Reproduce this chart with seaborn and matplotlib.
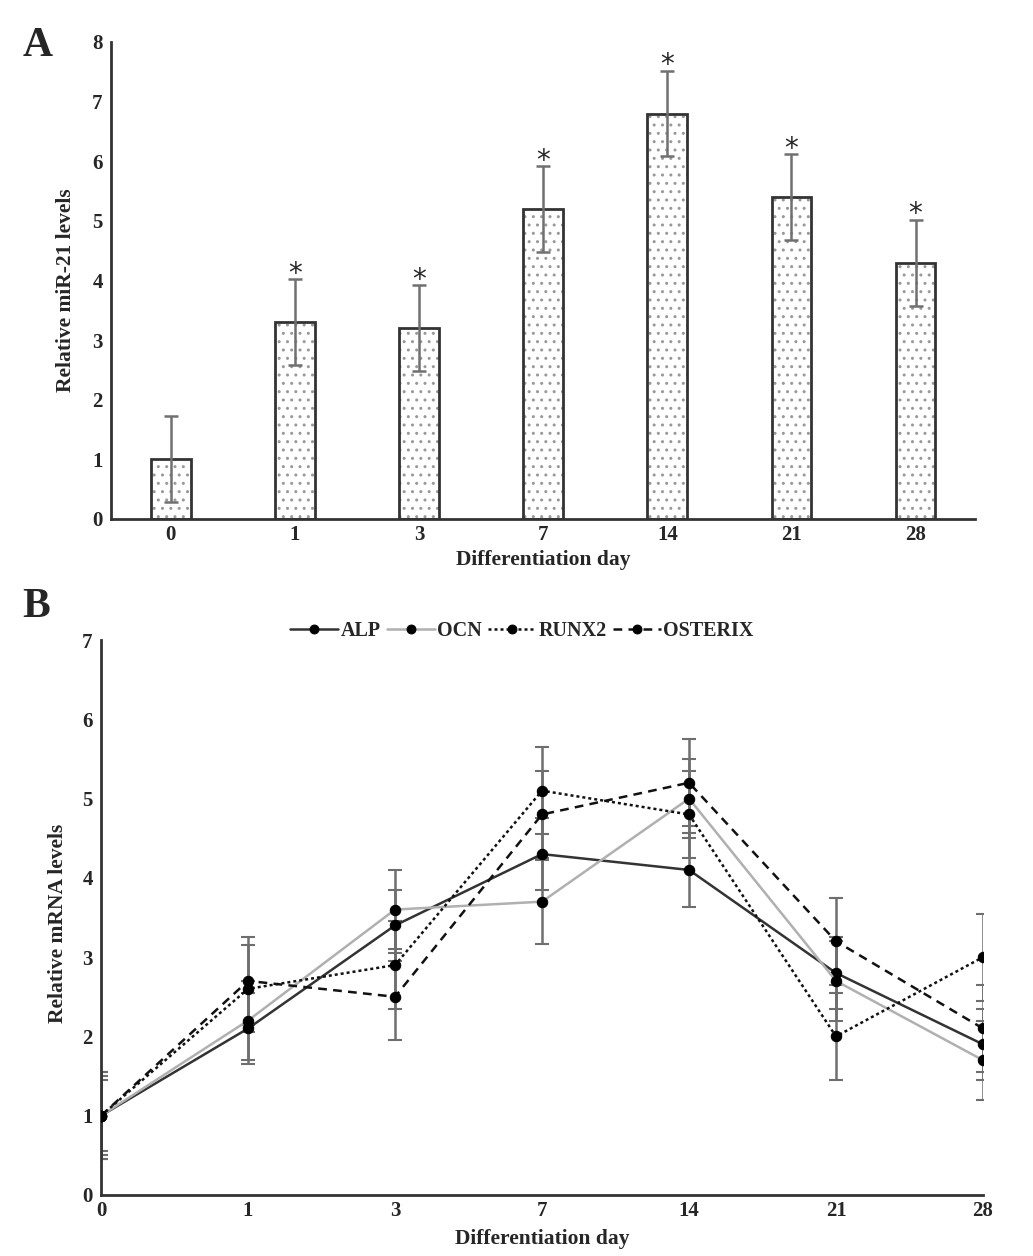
import numpy as np
import pandas as pd
import matplotlib
matplotlib.use("Agg")
import matplotlib.pyplot as plt
import seaborn as sns

# Panel A: relative miR-21 levels
days = ["0", "1", "3", "7", "14", "21", "28"]
mir21 = [1.0, 3.3, 3.2, 5.2, 6.8, 5.4, 4.3]
mir21_err = [0.72, 0.72, 0.72, 0.72, 0.72, 0.72, 0.72]
signif = [False, True, True, True, True, True, True]

# Panel B: relative mRNA levels
alp = [1.0, 2.1, 3.4, 4.3, 4.1, 2.8, 1.9]
ocn = [1.0, 2.2, 3.6, 3.7, 5.0, 2.7, 1.7]
runx2 = [1.0, 2.6, 2.9, 5.1, 4.8, 2.0, 3.0]
osterix = [1.0, 2.7, 2.5, 4.8, 5.2, 3.2, 2.1]
alp_err = [0.45, 0.45, 0.45, 0.45, 0.47, 0.45, 0.45]
ocn_err = [0.5, 0.5, 0.5, 0.53, 0.5, 0.5, 0.5]
runx2_err = [0.55, 0.55, 0.55, 0.55, 0.55, 0.55, 0.55]
osterix_err = [0.55, 0.55, 0.55, 0.55, 0.55, 0.55, 0.55]

sns.set_theme(style="white")
plt.rcParams["font.family"] = ["Liberation Serif", "DejaVu Serif"]
plt.rcParams["font.weight"] = "bold"
plt.rcParams["axes.labelweight"] = "bold"
plt.rcParams["hatch.linewidth"] = 1.0
plt.rcParams["hatch.color"] = "#999999"

spine_col = "#333333"
fig = plt.figure(figsize=(10.33, 12.56), dpi=100)

# ---------- Panel A ----------
axA = fig.add_axes([0.1075, 0.5868, 0.8365, 0.3798])
dfA = pd.DataFrame({"day": days, "level": mir21})
sns.barplot(data=dfA, x="day", y="level", ax=axA, width=0.32, color="white",
            errorbar=None, edgecolor="#999999", linewidth=0, hatch="..")
sns.barplot(data=dfA, x="day", y="level", ax=axA, width=0.32, fill=False,
            errorbar=None, edgecolor=spine_col, linewidth=2)
pos = np.arange(len(days))
axA.errorbar(pos, mir21, yerr=mir21_err, fmt="none", ecolor="#707070",
             elinewidth=1.8, capsize=5, capthick=1.8)
for p, v, e, s in zip(pos, mir21, mir21_err, signif):
    if s:
        axA.text(p, v + e + 0.09, "*", ha="center", va="center",
                 fontsize=20, fontweight="normal", family="DejaVu Sans")
axA.set_xlim(-0.48, 6.48)
axA.set_ylim(0, 8)
axA.set_yticks(range(0, 9))
axA.set_xlabel("Differentiation day", fontsize=15.5, labelpad=4)
axA.set_ylabel("Relative miR-21 levels", fontsize=15.5)
axA.yaxis.set_label_coords(-0.041, 0.48)

# ---------- Panel B ----------
axB = fig.add_axes([0.0978, 0.0486, 0.8538, 0.4418])
series = [
    ("ALP", alp, alp_err, "#333333", "-"),
    ("OCN", ocn, ocn_err, "#b0b0b0", "-"),
    ("RUNX2", runx2, runx2_err, "#111111", (0, (1.2, 1.2))),
    ("OSTERIX", osterix, osterix_err, "#111111", (0, (3.5, 2.5))),
]
for name, vals, errs, col, ls in series:
    axB.errorbar(pos, vals, yerr=errs, fmt="none", ecolor="#6e6e6e",
                 elinewidth=1.8, capsize=5, capthick=1.5, zorder=2)
for name, vals, errs, col, ls in series:
    sns.lineplot(x=pos, y=vals, ax=axB, color=col, linestyle=ls, linewidth=1.8,
                 marker="o", markersize=7.5, markerfacecolor="black",
                 markeredgecolor="black", label=name, zorder=3)
axB.set_xlim(0, 6)
axB.set_ylim(0, 7)
axB.set_xticks(pos)
axB.set_xticklabels(days)
axB.set_yticks(range(0, 8))
axB.set_xlabel("Differentiation day", fontsize=15.5, labelpad=6)
axB.set_ylabel("Relative mRNA levels", fontsize=15.5)
axB.yaxis.set_label_coords(-0.037, 0.49)
axB.legend(loc="center", bbox_to_anchor=(0.477, 1.016), ncol=4, frameon=False,
           handlelength=2.4, handletextpad=0.1, columnspacing=0.3,
           markerscale=0.85,
           prop={"family": "Liberation Serif", "weight": "bold", "size": 14.5})

for ax in (axA, axB):
    sns.despine(ax=ax)
    for sp in ("left", "bottom"):
        ax.spines[sp].set_color(spine_col)
        ax.spines[sp].set_linewidth(2)
    ax.tick_params(direction="in", length=4, width=1.5, color=spine_col,
                   labelsize=15, pad=4)
    ax.tick_params(axis="y", pad=6)

fig.text(0.022, 0.963, "A", fontsize=30, fontweight="bold", va="center")
fig.text(0.022, 0.517, "B", fontsize=30, fontweight="bold", va="center")

fig.savefig("out.png", dpi=100)
